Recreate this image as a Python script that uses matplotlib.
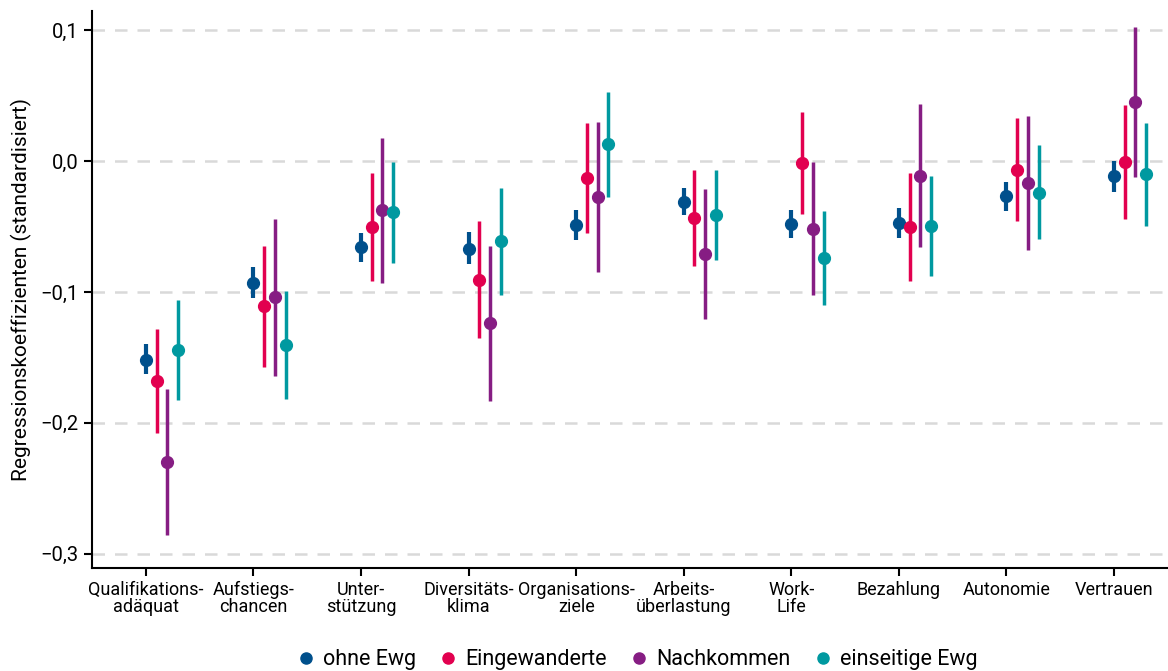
import matplotlib.pyplot as plt
import numpy as np
from matplotlib.lines import Line2D
from matplotlib.ticker import FuncFormatter

plt.rcParams['font.family'] = ['Roboto', 'DejaVu Sans']

categories = ['Qualifikations-\nadäquat', 'Aufstiegs-\nchancen', 'Unter-\nstützung',
              'Diversitäts-\nklima', 'Organisations-\nziele', 'Arbeits-\nüberlastung',
              'Work-\nLife', 'Bezahlung', 'Autonomie', 'Vertrauen']
series = ['ohne Ewg', 'Eingewanderte', 'Nachkommen', 'einseitige Ewg']
colors = ['#00508c', '#e2004f', '#861d83', '#0099a0']

# point estimates per series (one value per category)
est_ohne = [-0.152, -0.093, -0.0655, -0.067, -0.0487, -0.031, -0.048, -0.047, -0.027, -0.0117]
est_eing = [-0.168, -0.111, -0.0505, -0.0905, -0.0128, -0.0433, -0.0015, -0.0507, -0.0064, -0.0008]
est_nach = [-0.230, -0.104, -0.0375, -0.124, -0.0273, -0.0711, -0.0515, -0.011, -0.0168, 0.0451]
est_eins = [-0.1445, -0.1407, -0.039, -0.0609, 0.0128, -0.0408, -0.0742, -0.0497, -0.024, -0.0102]

# confidence interval bounds
lo_ohne = [-0.163, -0.105, -0.077, -0.0785, -0.0604, -0.0413, -0.0586, -0.0586, -0.038, -0.0235]
hi_ohne = [-0.140, -0.0808, -0.0548, -0.0545, -0.037, -0.0209, -0.0372, -0.0359, -0.016, 0.0]
lo_eing = [-0.208, -0.157, -0.0917, -0.135, -0.0548, -0.080, -0.0403, -0.0917, -0.0454, -0.0441]
hi_eing = [-0.128, -0.0647, -0.0092, -0.0456, 0.0293, -0.0066, 0.0375, -0.0094, 0.0329, 0.0428]
lo_nach = [-0.2854, -0.1644, -0.0928, -0.183, -0.0846, -0.1203, -0.1027, -0.066, -0.0683, -0.0125]
hi_nach = [-0.1745, -0.0441, 0.0178, -0.0652, 0.030, -0.0214, -0.0003, 0.0438, 0.0344, 0.1024]
lo_eins = [-0.1827, -0.1822, -0.0775, -0.102, -0.0273, -0.0752, -0.1099, -0.0877, -0.0599, -0.0497]
hi_eins = [-0.1063, -0.0994, -0.0008, -0.0206, 0.0528, -0.0066, -0.0382, -0.0115, 0.012, 0.0293]

estimates = [est_ohne, est_eing, est_nach, est_eins]
lows = [lo_ohne, lo_eing, lo_nach, lo_eins]
highs = [hi_ohne, hi_eing, hi_nach, hi_eins]

fig = plt.figure(figsize=(11.68, 6.71), dpi=100)
ax = fig.add_axes([0.0788, 0.1535, 0.921, 0.83])

x = np.arange(len(categories))
for i in range(4):
    xs = x + 0.1 * i
    lw = 3 if i == 0 else 2.5
    ax.vlines(xs, lows[i], highs[i], color=colors[i], lw=lw, zorder=3)
    ax.plot(xs, estimates[i], 'o', color=colors[i], ms=8.5, zorder=4)

ax.set_xlim(-0.5, 9.5)
ax.set_ylim(-0.311, 0.1147)
ax.set_yticks([0.1, 0.0, -0.1, -0.2, -0.3])
ax.yaxis.set_major_formatter(FuncFormatter(
    lambda v, p: f'{v:.1f}'.replace('.', ',').replace('-', '\u2212')))
ax.set_xticks(x)
ax.set_xticklabels(categories, fontsize=13, linespacing=0.95)
ax.tick_params(axis='y', labelsize=14.5, length=6, width=1.5, pad=4)
ax.tick_params(axis='x', length=6, width=1.5, pad=3)
ax.grid(axis='y', color='#d9d9d9', lw=1.8, ls=(0, (5, 4)), zorder=0)
for s in ['top', 'right']:
    ax.spines[s].set_visible(False)
for s in ['left', 'bottom']:
    ax.spines[s].set_linewidth(1.5)
ax.set_ylabel('Regressionskoeffizienten (standardisiert)', fontsize=15, labelpad=6)

handles = [Line2D([], [], marker='o', ls='none', color=c, ms=8) for c in colors]
fig.legend(handles, series, loc='center', bbox_to_anchor=(0.545, 0.017), ncol=4,
           frameon=False, fontsize=15.5, handletextpad=0.3, columnspacing=1.0,
           handlelength=1.0)

plt.savefig('out.png', dpi=100)
